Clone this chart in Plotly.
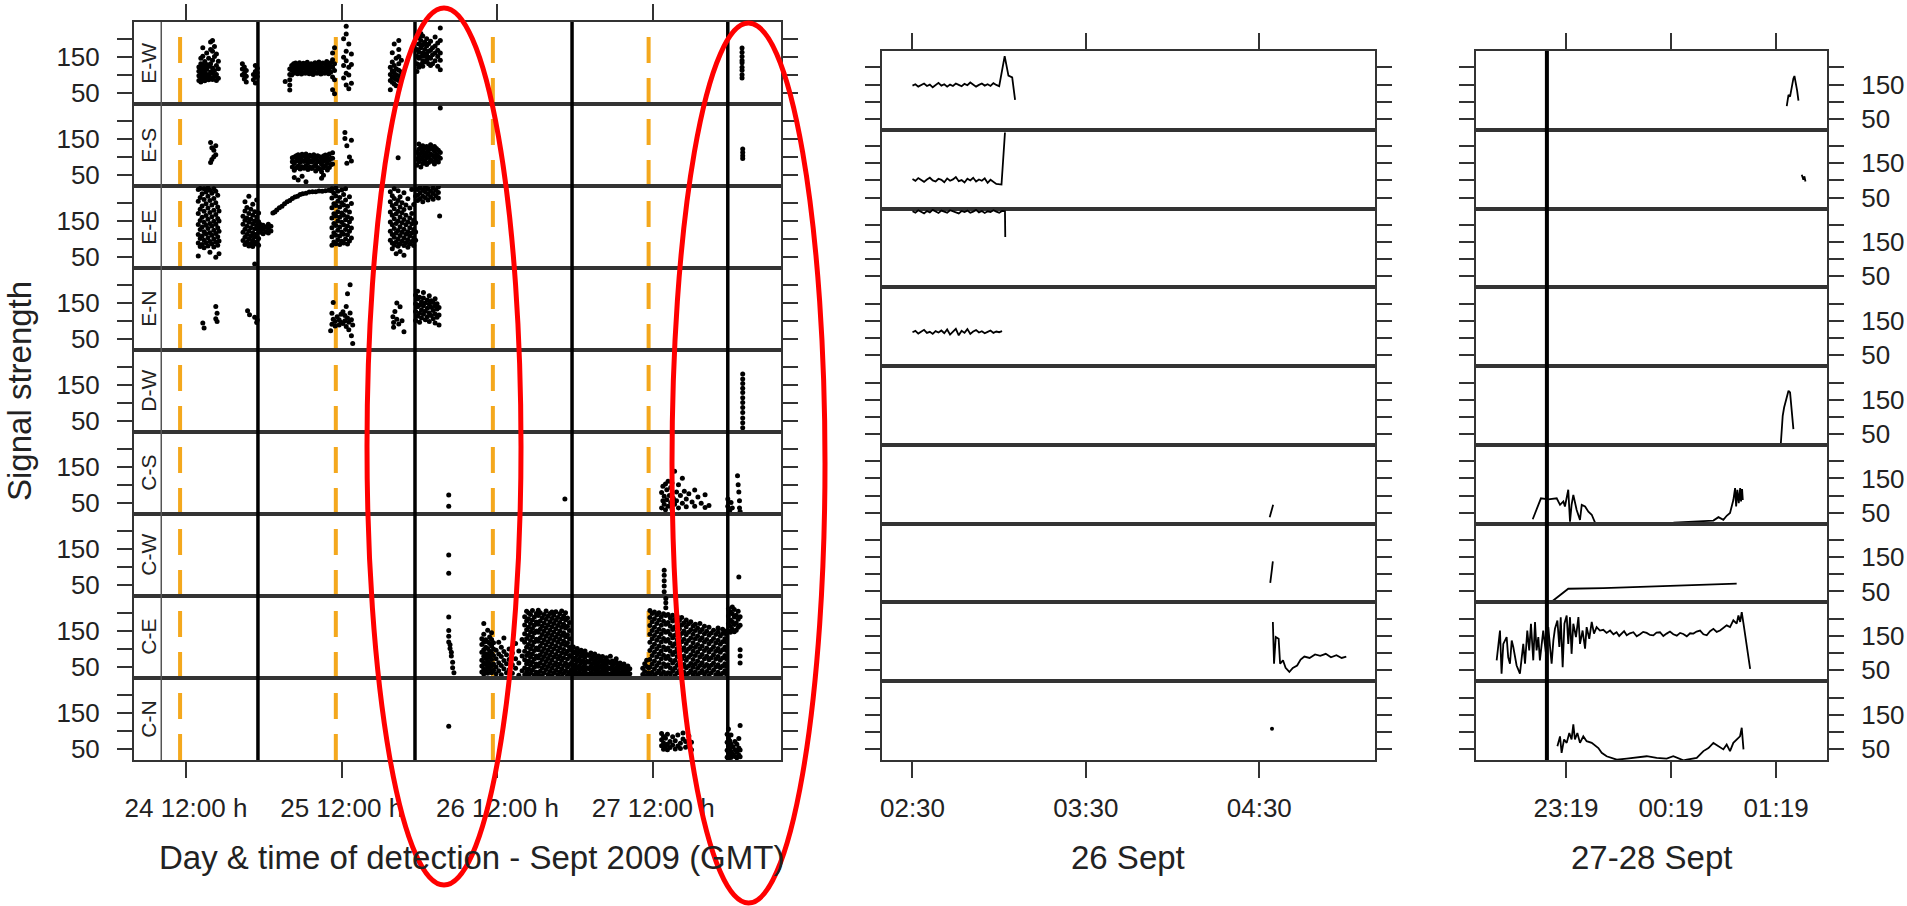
import plotly.graph_objects as go

# ======================= DATA =======================
ROWS = ["E-W", "E-S", "E-E", "E-N", "D-W", "C-S", "C-W", "C-E", "C-N"]

# ---- Panel 1: hours since 24 Sept 2009 00:00 GMT; entries = (hour, [signal strengths])
P1_TICKS = [12, 36, 60, 84]
P1_LABELS = ["24 12:00 h", "25 12:00 h", "26 12:00 h", "27 12:00 h"]
P1_RANGE = [4.0, 103.7]
P1_STRIP_EDGE = 8.2
P1_ORANGE = [11.1, 35.1, 59.3, 83.3]
P1_BLACK = [23.1, 47.3, 71.5, 95.5]

EW = [
    (14.0, [84, 97, 110, 122]), (14.3, [80, 92, 104, 118, 131, 146]), (14.6, [88, 99, 113, 127, 152, 176]),
    (14.9, [83, 95, 106, 119, 137]), (15.2, [90, 101, 115, 129, 161]), (15.5, [86, 100, 123, 146]),
    (15.8, [92, 108, 131, 171, 192]), (16.1, [87, 104, 119, 141, 166, 196]), (16.4, [95, 112, 151, 179]),
    (16.7, [84, 101, 126, 158]), (17.0, [90, 117, 138]),
    (20.7, [99, 116, 131]), (21.0, [88, 104, 122]), (21.3, [80, 96, 112]), (22.4, [86, 101]),
    (22.7, [77, 93, 109, 126]), (23.0, [95, 106, 118]),
    (27.3, [81]), (28.0, [57, 71, 86, 101, 116]), (28.3, [99, 113, 126]), (28.6, [104, 118, 131]),
    (28.9, [108, 121, 133]), (29.2, [103, 116, 128]), (29.5, [107, 119, 134]), (29.8, [102, 115, 127]),
    (30.1, [106, 120, 132]), (30.4, [104, 117, 130]), (30.7, [108, 122, 135]), (31.0, [103, 114, 127]),
    (31.3, [106, 119, 131]), (31.6, [101, 116, 129]), (31.9, [107, 121, 134]), (32.2, [104, 118, 130]),
    (32.5, [109, 122, 136]), (32.8, [102, 115, 128]), (33.1, [106, 120, 133]), (33.4, [104, 117, 131]),
    (33.7, [108, 123, 137]), (34.0, [103, 116, 129]), (34.3, [107, 121, 134]),
    (34.6, [58, 94, 121, 142, 161]), (34.9, [47, 86, 112, 131, 176]), (36.3, [91, 126, 149, 201]),
    (36.7, [71, 104, 139, 166, 214, 236]), (37.1, [61, 99, 121, 186]), (37.5, [76, 129, 158]),
    (43.5, [58, 84, 101, 121]), (43.8, [79, 94, 111, 136, 162]), (44.1, [74, 91, 106, 126, 186]),
    (44.4, [69, 87, 99, 117, 146]), (44.8, [84, 97, 113, 131, 151, 171, 196]), (45.2, [89, 108, 141]),
    (47.6, [109, 131, 152, 171]), (47.9, [121, 146, 164, 186, 204]), (48.2, [129, 151, 176, 196, 216]),
    (48.5, [124, 139, 161, 184, 209]), (48.8, [136, 152, 171, 191]), (49.1, [141, 159, 181, 201]),
    (49.4, [131, 149, 166, 186]), (49.7, [126, 146, 169, 194]), (50.0, [131, 156, 176]),
    (50.4, [139, 161, 181, 206]), (50.8, [124, 151, 169, 189]), (51.2, [114, 141, 161, 196, 231]),
    (97.7, [91, 100, 113, 121, 134, 140, 151, 163, 175]),
]
ES = [
    (15.8, [140, 84]), (16.0, [125, 92]), (16.3, [118, 100]), (16.6, [131, 106]),
    (28.4, [71, 86, 97]), (28.7, [62, 81, 99, 42]), (29.0, [69, 88, 103]), (29.3, [74, 92, 106, 35]),
    (29.6, [66, 84, 100]), (29.9, [72, 90, 107, 45]), (30.2, [68, 87, 102]), (30.5, [75, 93, 108, 30]),
    (30.8, [64, 83, 98]), (31.1, [71, 89, 104]), (31.4, [67, 85, 101]), (31.7, [73, 91, 106]),
    (32.0, [60, 80, 97]), (32.3, [70, 88, 103]), (32.6, [66, 86, 100]), (32.9, [58, 78, 95, 40]),
    (33.2, [69, 87, 102, 48]), (33.5, [74, 92, 105]), (33.8, [63, 82, 99]), (34.1, [70, 90, 108]),
    (34.4, [78, 96]), (34.6, [80, 96, 111]), (36.5, [168, 151]), (36.8, [131, 82]), (37.2, [99]),
    (37.5, [88, 146]), (44.7, [97]),
    (47.6, [76, 94, 112]), (47.9, [86, 103, 121, 136]), (48.2, [71, 92, 110, 127]),
    (48.5, [81, 99, 116, 131]), (48.8, [89, 106, 124]), (49.1, [78, 97, 113, 129]),
    (49.4, [84, 102, 119]), (49.7, [92, 108, 126, 134]), (50.0, [87, 104, 121]),
    (50.3, [80, 98, 116, 129]), (50.6, [90, 107, 123]), (50.9, [85, 101, 118]), (51.2, [237, 96, 112]),
    (97.8, [95, 103, 112, 122]),
]
EE = [
    (13.9, [52, 88, 112, 140, 171, 205, 238]), (14.2, [78, 101, 126, 151, 183, 216, 241]),
    (14.5, [84, 108, 133, 160, 192, 226]), (14.8, [75, 96, 120, 146, 177, 210, 240]),
    (15.1, [89, 114, 138, 165, 198, 231]), (15.4, [80, 103, 129, 155, 186, 219, 242]),
    (15.7, [62, 92, 117, 143, 174, 207, 236]), (16.0, [86, 110, 136, 162, 195, 228]),
    (16.3, [77, 99, 124, 149, 180, 213, 240]), (16.6, [48, 91, 115, 141, 168, 201, 233]),
    (16.9, [82, 106, 131, 157, 189, 222]), (17.1, [58, 94, 121, 150, 178]),
    (20.8, [95, 118, 141, 163]), (21.1, [84, 104, 127, 152, 178, 204]), (21.4, [90, 112, 135, 158, 188]),
    (21.7, [80, 99, 121, 146, 171, 219]), (22.0, [87, 108, 131, 155, 183]),
    (22.3, [78, 96, 117, 142, 166, 197]), (22.6, [29, 85, 105, 128, 150, 176]),
    (22.9, [91, 113, 138, 161, 209]), (23.2, [82, 101, 124, 148, 172]),
    (23.5, [118, 131, 140]), (23.9, [114, 127, 138]), (24.3, [120, 133]), (24.7, [116, 129, 141]),
    (25.1, [122, 135]),
    (25.4, [172]), (25.7, [175]), (26.0, [181]), (26.4, [187]), (26.8, [191]), (27.2, [198]),
    (27.6, [204]), (28.0, [207]), (28.4, [213]), (28.8, [217]), (29.2, [219]), (29.6, [224]),
    (30.0, [226]), (30.5, [228]), (31.0, [231]), (31.5, [232]), (32.0, [232]), (32.5, [234]),
    (33.0, [233]), (33.5, [235]), (34.0, [236]), (34.4, [235]),
    (34.5, [82, 106, 131, 158, 187, 214, 240]), (34.8, [91, 117, 143, 170, 198, 228]),
    (35.1, [86, 110, 137, 164, 193, 220, 242]), (35.4, [97, 124, 150, 176, 205, 233]),
    (35.7, [84, 108, 133, 160, 189, 216]), (36.0, [93, 119, 146, 172, 201, 237]),
    (36.3, [88, 113, 139, 166, 195, 224]), (36.6, [99, 126, 153, 180, 209, 240]),
    (36.9, [85, 111, 136, 162, 191]), (37.2, [94, 121, 148, 175, 218]), (37.5, [102, 130, 157, 199]),
    (43.5, [96, 121, 147, 175, 204, 232]), (43.8, [72, 88, 112, 139, 166, 193, 221]),
    (44.1, [82, 104, 129, 156, 184, 213, 240]), (44.4, [58, 91, 116, 143, 170, 198]),
    (44.7, [79, 99, 123, 150, 177, 207, 235]), (45.0, [64, 86, 109, 134, 161, 189, 218]),
    (45.3, [93, 118, 145, 173, 201]), (45.6, [54, 81, 102, 127, 154, 182, 229]),
    (45.9, [89, 113, 139, 166, 195]), (46.2, [76, 97, 120, 147, 212]),
    (46.5, [85, 108, 131, 158, 186]), (46.8, [92, 116, 142, 171, 238]),
    (47.1, [81, 103, 126, 152, 196]), (47.4, [96, 119, 145, 220]),
    (47.7, [207, 222, 238]), (48.1, [212, 229, 243]), (48.5, [204, 219, 236]), (48.9, [215, 231, 244]),
    (49.3, [209, 225, 240]), (49.7, [218, 233]), (50.1, [211, 227, 242]), (50.5, [221, 236]),
    (50.9, [214, 230, 245]), (51.1, [164]),
]
EN = [
    (14.6, [94]), (14.8, [80]), (16.6, [140, 106]), (16.8, [121, 98]),
    (21.5, [128]), (21.8, [117]), (22.6, [110]), (22.9, [95]), (23.0, [102]),
    (34.3, [72]), (34.5, [90, 121]), (34.7, [151, 104]), (35.0, [85, 98]), (35.3, [111]),
    (35.6, [88, 103]), (35.9, [96, 118]), (36.2, [125, 92]), (36.5, [100, 115]), (36.7, [140, 84]),
    (36.9, [176, 108]), (37.1, [75, 96]), (37.3, [201, 122]), (37.5, [58, 103]), (37.7, [36, 88]),
    (43.9, [111]), (44.0, [95, 82]), (44.2, [126]), (44.5, [150, 104]), (44.8, [91]), (45.0, [139]),
    (45.3, [100]), (45.6, [69]),
    (47.4, [101, 126, 148, 172]), (47.7, [113, 139, 161, 183]), (48.0, [96, 121, 144, 166]),
    (48.3, [108, 131, 153]), (48.6, [118, 142, 164, 179]), (48.9, [103, 127, 150]),
    (49.2, [111, 135, 158]), (49.5, [98, 122, 146, 170]), (49.8, [115, 138, 156]),
    (50.1, [106, 129, 151]), (50.4, [94, 119, 141, 162]), (50.7, [110, 133, 148]), (51.0, [88, 116, 137]),
]
DW = [
    (97.8, [30, 44, 57, 73, 87, 101, 114, 129, 141, 154, 167, 181]),
]
CS = [
    (52.5, [71, 40]), (70.4, [60]),
    (85.3, [35, 78]), (85.5, [55, 96]), (85.7, [45, 68]), (85.9, [102, 30]), (86.1, [58, 86]),
    (86.3, [40, 110]), (86.5, [70]), (86.7, [50, 92]), (86.9, [32, 105]), (87.1, [62]),
    (87.3, [45, 138]), (87.6, [80, 55]), (87.9, [100, 35]), (88.2, [70]), (88.5, [48, 118]),
    (88.8, [82]), (89.1, [60, 38]), (89.5, [75]), (90.0, [52]), (90.4, [85, 40]), (90.9, [66]),
    (91.4, [48]), (92.0, [36, 72]), (92.6, [42]),
    (95.5, [40, 60]), (95.8, [28]), (96.0, [50]), (96.2, [35]), (97.0, [125]), (97.1, [100]),
    (97.2, [80]), (97.3, [55, 35]), (97.4, [25]),
]
CW = [
    (52.5, [133, 82]), (85.7, [30, 46, 61, 76, 90]), (97.2, [71]),
]
CE = [
    (52.5, [189, 151, 135, 119]), (52.7, [101, 111]), (52.9, [90, 80]), (53.1, [62, 47]), (53.3, [33]),
    (57.6, [35, 52, 68, 90, 112, 128]), (57.9, [29, 44, 61, 79, 97, 118, 141, 171]),
    (58.2, [38, 56, 73, 86, 104, 125]), (58.5, [31, 48, 65, 83, 101, 120, 152]),
    (58.8, [42, 59, 77, 94, 115, 133]), (59.1, [33, 51, 70, 88, 108, 126, 145]),
    (59.4, [40, 57, 81, 99, 117]),
    (59.8, [30, 49, 72, 96]), (60.2, [38, 61, 85, 118]), (60.6, [27, 53, 78, 104]),
    (61.0, [44, 67, 92, 130]), (61.4, [33, 58, 83]), (61.8, [41, 70, 99]),
    (62.3, [31, 55, 88]), (62.8, [45, 72, 115]), (63.3, [26, 60, 94]), (63.8, [38, 80, 126]),
    (64.2, [27, 46, 69, 93, 118, 142, 167, 190]), (64.5, [35, 58, 81, 104, 129, 153, 178, 205]),
    (64.8, [24, 43, 66, 88, 112, 137, 160, 184, 200]), (65.1, [31, 54, 76, 99, 123, 148, 171, 196]),
    (65.4, [40, 62, 85, 109, 134, 157, 181, 207]), (65.7, [26, 48, 71, 95, 119, 144, 166, 189]),
    (66.0, [34, 57, 80, 102, 127, 150, 175, 199]), (66.3, [29, 51, 74, 97, 121, 146, 169, 193, 208]),
    (66.6, [37, 60, 83, 107, 131, 155, 178, 201]), (66.9, [25, 47, 70, 92, 116, 140, 163, 187]),
    (67.2, [33, 55, 78, 101, 125, 149, 172, 196]), (67.5, [42, 64, 87, 111, 135, 159, 183, 206]),
    (67.8, [28, 50, 73, 96, 120, 143, 167, 191]), (68.1, [36, 59, 82, 105, 129, 152, 176, 199]),
    (68.4, [24, 45, 68, 91, 114, 138, 162, 185, 203]), (68.7, [32, 54, 77, 100, 124, 147, 171, 194]),
    (69.0, [39, 61, 84, 108, 132, 156, 180, 204]), (69.3, [27, 49, 72, 94, 118, 141, 165, 188]),
    (69.6, [35, 57, 79, 103, 127, 150, 174, 198]), (69.9, [23, 44, 67, 89, 113, 137, 160, 184, 206]),
    (70.2, [31, 53, 75, 98, 122, 145, 169, 192]), (70.5, [38, 60, 86, 110, 134, 158, 181, 201]),
    (70.8, [26, 48, 71, 93, 117, 139, 163, 186]), (71.1, [34, 56, 81, 104, 128, 151, 174]),
    (71.4, [25, 41, 60, 78, 97]), (71.7, [31, 49, 68, 88, 105]), (72.0, [23, 38, 55, 74, 92]),
    (72.3, [29, 46, 64, 83, 101]), (72.6, [35, 52, 71, 90]), (72.9, [26, 43, 61, 80, 96]),
    (73.2, [32, 49, 67, 86]), (73.5, [24, 40, 58, 77, 94]), (73.8, [30, 47, 65, 84]),
    (74.1, [27, 44, 62, 81]), (74.4, [33, 51, 70, 88]), (74.7, [25, 42, 59, 77]),
    (75.0, [31, 48, 66, 85]), (75.3, [23, 39, 56, 74]), (75.6, [29, 46, 63, 80]),
    (75.9, [35, 52, 70]), (76.2, [26, 43, 60, 78]), (76.5, [32, 49, 67]), (76.8, [24, 40, 57, 75]),
    (77.1, [30, 47, 64]), (77.4, [27, 44, 61, 79]), (77.7, [33, 50, 66]), (78.0, [25, 41, 58]),
    (78.3, [31, 47, 63, 72]), (78.6, [23, 38, 55]), (78.9, [29, 45, 60]), (79.2, [35, 51]),
    (79.5, [26, 42, 57]), (79.8, [32, 47]), (80.1, [24, 39, 52]), (80.4, [30, 44]),
    (82.4, [28, 45]), (82.7, [36, 58]), (83.0, [25, 50, 68]), (83.3, [33, 47]),
    (83.5, [27, 48, 70, 95, 118, 141, 165, 188, 207]), (83.85, [34, 57, 81, 104, 128, 151, 176, 199]),
    (84.2, [25, 44, 66, 90, 113, 137, 160, 184, 203]), (84.55, [31, 53, 77, 100, 124, 147, 171, 195]),
    (84.9, [38, 61, 85, 108, 132, 155, 180, 201]), (85.25, [28, 47, 72, 94, 119, 142, 166, 190]),
    (85.6, [35, 58, 82, 105, 129, 152, 177, 198]),
    (85.95, [26, 50, 73, 97, 121, 146, 169, 193, 215, 229, 241]),
    (86.3, [33, 55, 79, 102, 126, 149, 174, 196]), (86.65, [29, 46, 69, 93, 116, 140, 163, 186]),
    (87.0, [37, 60, 84, 107, 131, 154, 178, 194]), (87.35, [24, 45, 67, 91, 114, 138, 161, 183]),
    (87.7, [32, 54, 78, 101, 125, 148, 172, 191]), (88.05, [39, 62, 86, 109, 133, 156, 179]),
    (88.4, [27, 49, 71, 96, 120, 143, 167, 188]), (88.75, [34, 56, 80, 103, 127, 150, 173]),
    (89.1, [25, 47, 68, 92, 115, 139, 162, 181]), (89.45, [31, 52, 76, 99, 123, 146, 170]),
    (89.8, [38, 59, 83, 106, 130, 153, 176]), (90.15, [28, 48, 70, 94, 117, 141, 164]),
    (90.5, [35, 57, 81, 104, 128, 151, 169]), (90.85, [26, 45, 66, 90, 112, 136, 158]),
    (91.2, [32, 53, 77, 100, 124, 147, 171]), (91.55, [39, 61, 84, 108, 131, 154]),
    (91.9, [29, 50, 72, 95, 119, 142, 163]), (92.25, [36, 56, 79, 102, 126, 149]),
    (92.6, [25, 46, 69, 91, 114, 138, 160]), (92.95, [33, 54, 75, 98, 121, 144]),
    (93.3, [40, 60, 83, 106, 129, 152]), (93.65, [27, 49, 71, 93, 116, 140]),
    (94.0, [34, 55, 78, 101, 124, 147, 158]), (94.35, [26, 47, 68, 90, 113, 136]),
    (94.7, [31, 52, 74, 97, 120, 143, 155]), (95.05, [38, 58, 81, 104, 128, 150]),
    (95.3, [29, 50, 72, 95, 118, 140]),
    (95.6, [150, 170, 192, 212]), (95.9, [146, 163, 181, 204]), (96.2, [155, 176, 198, 217]),
    (96.5, [148, 168, 189, 210]), (96.8, [152, 172, 194]), (97.1, [160, 183, 205]),
    (97.4, [97, 80, 60, 166, 190]),
]
CN = [
    (52.5, [113]),
    (85.3, [58, 75, 92]), (85.6, [48, 66, 84]), (85.9, [55, 79]), (86.2, [62, 90, 47]), (86.6, [70, 53]),
    (87.0, [83, 60]), (87.4, [49, 72]), (87.8, [88, 57]), (88.2, [65, 50]), (88.6, [77, 94]),
    (89.0, [54, 70]), (89.5, [61, 85]), (89.9, [47, 68]),
    (95.4, [26, 45, 68, 90]), (95.6, [23, 38, 57, 80, 105]), (95.8, [30, 50, 72]), (96.0, [25, 42, 63, 88]),
    (96.3, [34, 55]), (96.6, [28, 47, 70]), (96.9, [24, 40, 62]), (97.2, [32, 52, 78]), (97.4, [27, 46, 115]),
]
P1_DATA = [EW, ES, EE, EN, DW, CS, CW, CE, CN]

# ---- Panel 2: minutes since 26 Sept 00:00 ----
P2_TICKS = [150, 210, 270]
P2_LABELS = ["02:30", "03:30", "04:30"]
P2_RANGE = [139.45, 309.9]
P2_EW_T = [150, 151, 152, 153, 154, 155, 156, 157, 158, 159, 160, 161, 162, 163, 164, 165, 166, 167, 168,
           169, 170, 171, 172, 173, 174, 175, 176, 177, 178, 179, 180, 181.9, 183.2, 184.5, 185.5]
P2_EW_V = [147, 151, 144, 149, 153, 146, 150, 142, 148, 155, 147, 151, 144, 150, 146, 153, 149, 145, 152,
           148, 156, 150, 144, 149, 153, 147, 151, 146, 154, 149, 145, 233, 176, 171, 105]
P2_ES_T = [150, 151, 152, 153, 154, 155, 156, 157, 158, 159, 160, 161, 162, 163, 164, 165, 166, 167, 168,
           169, 170, 171, 172, 173, 174, 175, 176, 177, 178, 179, 180.8, 182.0]
P2_ES_V = [104, 99, 107, 101, 96, 103, 108, 100, 97, 105, 102, 95, 106, 99, 103, 110, 98, 101, 94,
           105, 100, 108, 97, 103, 99, 106, 93, 102, 97, 90, 88, 240]
P2_EE_T = [150, 151, 152, 153, 154, 155, 156, 157, 158, 159, 160, 161, 162, 163, 164, 165, 166, 167, 168,
           169, 170, 171, 172, 173, 174, 175, 176, 177, 178, 179, 180, 181, 182.0, 182.1]
P2_EE_V = [240, 236, 243, 238, 234, 241, 237, 244, 239, 235, 242, 238, 236, 243, 240, 237, 234, 241, 238,
           242, 236, 239, 244, 237, 241, 235, 240, 238, 243, 239, 236, 241, 240, 165]
P2_EN_T = [150, 151, 152, 153, 154, 155, 156, 157, 158, 159, 160, 161, 162, 163, 164, 165, 166, 167, 168,
           169, 170, 171, 172, 173, 174, 175, 176, 177, 178, 179, 180, 181]
P2_EN_V = [117, 121, 113, 119, 124, 115, 118, 112, 120, 116, 122, 114, 125, 110, 119, 127, 108, 121, 115,
           126, 112, 119, 123, 116, 120, 114, 118, 122, 115, 119, 117, 120]
P2_CS_T = [273.6, 274.8]
P2_CS_V = [37, 73]
P2_CW_T = [273.8, 274.7]
P2_CW_V = [75, 138]
P2_CE_T = [274.7, 275.1, 275.7, 276.7, 277.2, 278.2, 279.1, 280.4, 281.6, 283.1, 284.3, 285.6, 287.4,
           289.3, 291.1, 293.0, 294.8, 296.7, 298.5, 300.1]
P2_CE_V = [191, 69, 147, 142, 69, 79, 57, 45, 57, 64, 81, 90, 86, 96, 92, 98, 88, 94, 86, 90]
P2_CN_T = [274.4]
P2_CN_V = [109]
P2_DATA = {
    "E-W": (P2_EW_T, P2_EW_V), "E-S": (P2_ES_T, P2_ES_V), "E-E": (P2_EE_T, P2_EE_V),
    "E-N": (P2_EN_T, P2_EN_V), "C-S": (P2_CS_T, P2_CS_V), "C-W": (P2_CW_T, P2_CW_V),
    "C-E": (P2_CE_T, P2_CE_V),
}
P2_POINTS = {"C-N": (P2_CN_T, P2_CN_V)}

# ---- Panel 3: minutes since 27 Sept 00:00 ----
P3_TICKS = [1399, 1459, 1519]
P3_LABELS = ["23:19", "00:19", "01:19"]
P3_RANGE = [1347.6, 1548.1]
P3_BLACK = [1388.1]
P3_EW_T = [1525.1, 1526.1, 1527.0, 1528.0, 1528.9, 1529.5, 1530.3, 1531.0, 1531.8]
P3_EW_V = [87, 120, 115, 149, 168, 175, 154, 134, 103]
P3_ES_T = [1533.7, 1534.6, 1535.2, 1535.8]
P3_ES_V = [117, 102, 112, 97]
P3_DW_T = [1521.7, 1522.8, 1523.6, 1524.7, 1526.1, 1527.0, 1528.0, 1528.9]
P3_DW_V = [20, 103, 127, 152, 176, 171, 122, 64]
P3_CS_T = [1380.0, 1382.2, 1384.7, 1388.9, 1393.7, 1395.6, 1397.5, 1398.4, 1400.3, 1401.3, 1402.2, 1403.2,
           1405.1, 1407.0, 1408.0, 1409.9, 1411.8, 1413.7, 1415.6, 1441.3, 1460.4, 1483.2, 1486.1, 1488.9,
           1490.8, 1492.7, 1493.7, 1494.6, 1495.6, 1496.2, 1496.9, 1497.7, 1498.5, 1499.0, 1499.6, 1500.0]
P3_CS_V = [31, 58, 92, 89, 92, 73, 83, 68, 117, 24, 73, 102, 58, 29, 73, 68, 53, 44, 21, 19, 21, 27, 37, 29,
           41, 49, 68, 87, 122, 68, 117, 78, 122, 83, 119, 87]
P3_CW_T = [1390.8, 1400.3, 1420.3, 1458.4, 1496.5]
P3_CW_V = [20, 58, 60, 66, 73]
P3_CE_T = [1359.4, 1361.3, 1362.2, 1363.2, 1365.1, 1366.0, 1367.0, 1368.0, 1368.9, 1370.8, 1372.7, 1373.7,
           1374.6, 1375.6, 1376.9, 1378.0, 1379.0, 1380.3, 1381.3, 1382.2, 1383.2, 1384.1, 1385.1, 1386.0,
           1387.6, 1388.9, 1389.9, 1390.8, 1391.8, 1392.7, 1394.1, 1395.2, 1396.0, 1397.1, 1398.1, 1399.4,
           1400.3, 1401.3, 1402.2, 1403.2, 1404.7, 1406.1, 1407.0, 1408.5, 1409.9, 1410.8, 1412.3, 1413.7,
           1415.0, 1416.5, 1418.4, 1420.3, 1422.2, 1424.2, 1426.1, 1427.9, 1429.4, 1430.8, 1432.2, 1433.7,
           1435.5, 1437.5, 1439.4, 1441.3, 1443.1, 1445.1, 1447.0, 1448.9, 1450.7, 1452.7, 1454.6, 1456.5,
           1458.4, 1460.3, 1462.3, 1464.2, 1466.0, 1468.0, 1469.9, 1471.8, 1473.6, 1475.6, 1477.5, 1479.4,
           1481.3, 1483.2, 1485.1, 1487.0, 1488.9, 1490.8, 1492.7, 1494.6, 1496.5, 1497.5, 1498.5, 1499.4,
           1500.4, 1504.2]
P3_CE_V = [79, 166, 40, 127, 147, 88, 69, 137, 118, 64, 40, 79, 127, 69, 166, 108, 186, 79, 191, 108, 147,
           79, 127, 166, 98, 176, 118, 69, 137, 171, 195, 118, 205, 59, 186, 210, 127, 205, 98, 186, 147,
           205, 127, 166, 113, 176, 142, 191, 157, 176, 166, 168, 159, 166, 155, 161, 150, 157, 164, 152,
           158, 161, 149, 155, 162, 159, 153, 152, 160, 161, 150, 157, 163, 155, 151, 159, 156, 149, 158,
           157, 163, 166, 155, 152, 164, 171, 162, 166, 174, 181, 176, 196, 186, 210, 191, 220, 186, 54]
P3_CN_T = [1394.1, 1395.6, 1396.5, 1397.9, 1399.4, 1400.9, 1402.2, 1403.2, 1404.1, 1405.5, 1407.0, 1408.9,
           1410.8, 1413.7, 1417.5, 1419.4, 1422.2, 1428.0, 1433.7, 1439.4, 1445.1, 1450.8, 1456.5, 1460.3,
           1466.1, 1468.0, 1473.7, 1477.5, 1480.4, 1483.2, 1486.1, 1488.9, 1490.8, 1492.7, 1494.6, 1496.5,
           1498.4, 1499.4, 1500.4]
P3_CN_V = [58, 87, 39, 78, 68, 97, 78, 122, 78, 97, 68, 87, 73, 68, 53, 39, 29, 19, 22, 26, 29, 24, 22, 29,
           17, 19, 24, 44, 53, 68, 58, 49, 63, 44, 68, 78, 87, 112, 49]
P3_DATA = {
    "E-W": (P3_EW_T, P3_EW_V), "E-S": (P3_ES_T, P3_ES_V), "D-W": (P3_DW_T, P3_DW_V),
    "C-S": (P3_CS_T, P3_CS_V), "C-W": (P3_CW_T, P3_CW_V), "C-E": (P3_CE_T, P3_CE_V),
    "C-N": (P3_CN_T, P3_CN_V),
}

Y_RANGE = [18, 248]
Y_TICKS = [50, 100, 150, 200]
Y_LABELS = ["50", "", "150", ""]

# ======================= LAYOUT =======================
W, H = 1907, 906
FONT = "Liberation Sans, Arial, Helvetica, sans-serif"
INK = "#222222"
LINE = "#333333"


def fx(p):
    return p / W


def fy(p):
    return 1 - p / H


PANELS = [
    dict(x0=134, x1=781, top=22, bottom=760, rng=P1_RANGE, tv=P1_TICKS, tt=P1_LABELS, side="left", lab=True, so=12),
    dict(x0=882, x1=1374.6, top=51, bottom=760, rng=P2_RANGE, tv=P2_TICKS, tt=P2_LABELS, side="left", lab=False, so=12),
    dict(x0=1476, x1=1827, top=51, bottom=760, rng=P3_RANGE, tv=P3_TICKS, tt=P3_LABELS, side="right", lab=True, so=12),
]

fig = go.Figure()
lay = {}
annotations = []
shapes = []

for c, P in enumerate(PANELS):
    rh = (P["bottom"] - P["top"]) / 9
    for r, name in enumerate(ROWS):
        idx = c * 9 + r + 1
        xa = "xaxis" if idx == 1 else f"xaxis{idx}"
        ya = "yaxis" if idx == 1 else f"yaxis{idx}"
        xr = "x" if idx == 1 else f"x{idx}"
        yr = "y" if idx == 1 else f"y{idx}"
        top = P["top"] + r * rh
        bot = top + rh
        xaxis = dict(domain=[fx(P["x0"]), fx(P["x1"])], range=P["rng"], anchor=yr, automargin=False,
                     showline=True, linecolor=LINE, linewidth=2, mirror=True,
                     showgrid=False, zeroline=False, tickvals=P["tv"], ticktext=P["tt"],
                     ticks="", showticklabels=False, fixedrange=True)
        if r == 8:
            xaxis.update(ticks="outside", ticklen=16, tickwidth=2, tickcolor=LINE,
                         showticklabels=True, ticklabelstandoff=8,
                         tickfont=dict(size=26, color=INK, family=FONT))
        if r == 0:
            xaxis.update(side="top", ticks="outside", ticklen=16, tickwidth=2, tickcolor=LINE)
        yaxis = dict(domain=[fy(bot), fy(top)], range=Y_RANGE, anchor=xr, automargin=False,
                     showline=True, linecolor=LINE, linewidth=2, mirror="ticks",
                     showgrid=False, zeroline=False, tickvals=Y_TICKS, ticktext=Y_LABELS,
                     ticks="outside", ticklen=15, tickwidth=2, tickcolor=LINE,
                     side=P["side"], showticklabels=P["lab"], ticklabelstandoff=P["so"],
                     tickfont=dict(size=26, color=INK, family=FONT), fixedrange=True)
        lay[xa] = xaxis
        lay[ya] = yaxis

        # an empty trace so every subplot frame is drawn
        fig.add_trace(go.Scatter(x=[None], y=[None], mode="markers", xaxis=xr, yaxis=yr,
                                 hoverinfo="skip", showlegend=False))

        if c == 0:
            xs, ys = [], []
            for h, vals in P1_DATA[r]:
                for v in vals:
                    xs.append(h)
                    ys.append(v)
            fig.add_trace(go.Scatter(x=xs, y=ys, mode="markers", xaxis=xr, yaxis=yr,
                                     marker=dict(size=5, color="black", line=dict(width=0)),
                                     hoverinfo="skip", showlegend=False))
            annotations.append(dict(x=fx((P["x0"] + 161.3) / 2), y=fy((top + bot) / 2), xref="paper", yref="paper",
                                    text=name, textangle=-90, showarrow=False,
                                    font=dict(size=21, color=INK, family=FONT),
                                    xanchor="center", yanchor="middle"))
        elif c == 1:
            if name in P2_DATA:
                t, v = P2_DATA[name]
                fig.add_trace(go.Scatter(x=t, y=v, mode="lines", xaxis=xr, yaxis=yr,
                                         line=dict(color="black", width=1.8),
                                         hoverinfo="skip", showlegend=False))
            if name in P2_POINTS:
                t, v = P2_POINTS[name]
                fig.add_trace(go.Scatter(x=t, y=v, mode="markers", xaxis=xr, yaxis=yr,
                                         marker=dict(size=4, color="black"),
                                         hoverinfo="skip", showlegend=False))
        else:
            if name in P3_DATA:
                t, v = P3_DATA[name]
                fig.add_trace(go.Scatter(x=t, y=v, mode="lines", xaxis=xr, yaxis=yr,
                                         line=dict(color="black", width=1.8),
                                         hoverinfo="skip", showlegend=False))

# panel 1 vertical reference lines
for h in P1_ORANGE:
    shapes.append(dict(type="line", xref="x", yref="paper", x0=h, x1=h, y0=fy(760), y1=fy(22),
                       line=dict(color="#F4A81D", width=4, dash="26px,15px"), layer="below"))
for h in P1_BLACK:
    shapes.append(dict(type="line", xref="x", yref="paper", x0=h, x1=h, y0=fy(760), y1=fy(22),
                       line=dict(color="black", width=3.5), layer="above"))
shapes.append(dict(type="line", xref="x", yref="paper", x0=P1_STRIP_EDGE, x1=P1_STRIP_EDGE,
                   y0=fy(760), y1=fy(22), line=dict(color="#555555", width=1.5), layer="above"))
for m in P3_BLACK:
    shapes.append(dict(type="line", xref="x19", yref="paper", x0=m, x1=m, y0=fy(760), y1=fy(51),
                       line=dict(color="black", width=4), layer="above"))

# red highlight ellipses
shapes.append(dict(type="circle", xref="paper", yref="paper", x0=fx(367), x1=fx(521), y0=fy(885), y1=fy(8),
                   line=dict(color="#FF0000", width=5), layer="above"))
shapes.append(dict(type="circle", xref="paper", yref="paper", x0=fx(672), x1=fx(825), y0=fy(903), y1=fy(23),
                   line=dict(color="#FF0000", width=5), layer="above"))

# axis titles
annotations.append(dict(x=fx(19), y=fy(391), xref="paper", yref="paper", text="Signal strength",
                        textangle=-90, showarrow=False, font=dict(size=33, color=INK, family=FONT),
                        xanchor="center", yanchor="middle"))
annotations.append(dict(x=fx(471), y=fy(857), xref="paper", yref="paper",
                        text="Day &amp; time of detection - Sept 2009 (GMT)", showarrow=False,
                        font=dict(size=33, color=INK, family=FONT), xanchor="center", yanchor="middle"))
annotations.append(dict(x=fx(1128), y=fy(857), xref="paper", yref="paper", text="26 Sept", showarrow=False,
                        font=dict(size=33, color=INK, family=FONT), xanchor="center", yanchor="middle"))
annotations.append(dict(x=fx(1651), y=fy(857), xref="paper", yref="paper", text="27-28 Sept", showarrow=False,
                        font=dict(size=33, color=INK, family=FONT), xanchor="center", yanchor="middle"))

fig.update_layout(**lay)
fig.update_layout(width=W, height=H, autosize=False, margin=dict(l=0, r=0, t=0, b=0, pad=0, autoexpand=False),
                  paper_bgcolor="white", plot_bgcolor="rgba(0,0,0,0)", showlegend=False,
                  font=dict(family=FONT, color=INK), annotations=annotations, shapes=shapes)

fig.write_html("out.html", config={"displayModeBar": False},
               post_script="document.body.style.margin='0px';document.body.style.padding='0px';"
                           "document.body.style.overflow='hidden';")
